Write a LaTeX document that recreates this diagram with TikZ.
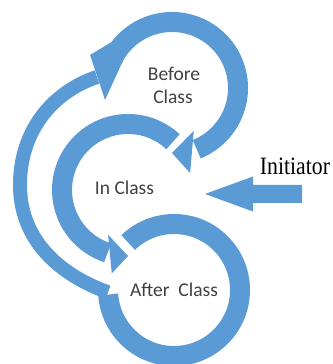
\documentclass[tikz,border=0pt]{standalone}
\usepackage{fontspec}
\usepackage{graphicx}
\setmainfont{Carlito}
\newfontfamily\serifit{Liberation Serif}
\usetikzlibrary{calc}
\definecolor{arrowblue}{HTML}{5B9BD5}
\definecolor{labelgray}{HTML}{404040}
\begin{document}
\begin{tikzpicture}[x=1pt,y=1pt,
  band/.style={draw=arrowblue,line width=20pt,line cap=butt},
  thinband/.style={draw=arrowblue,line width=14pt,line cap=butt},
  headfill/.style={fill=arrowblue,draw=none},
  lbl/.style={text=labelgray,font=\fontsize{19.5}{22.5}\selectfont,inner sep=0pt}]
\useasboundingbox (0,0) rectangle (332,364);
\coordinate (T) at (172,276);
\coordinate (M) at (128,174);
\coordinate (B) at (174,74);
% bottom circle (After Class)
\draw[band] ($(B)+(134:66)$) arc[start angle=134,end angle=-176,radius=66];
% long left arc from After Class up to Before Class
\coordinate (LA0) at ($(B)+(182:66)$);
\coordinate (LA1) at (97,287);
\draw[thinband] (LA0) .. controls (60,89) and (19,124) .. (20,181)
  .. controls (21,239) and (58,274) .. (LA1);
\fill[headfill] (90,309) -- ($(T)+(143:76)$) -- ($(T)+(152:56)$) -- (105,264) -- cycle;
% top circle (Before Class)
\draw[band] ($(T)+(155:66)$) arc[start angle=155,end angle=-68,radius=66];
\fill[headfill] ($(T)+(-63:48)$) -- ($(T)+(-90:65)$) -- ($(T)+(-78:87)$) -- cycle;
% middle circle (In Class)
\draw[band] ($(M)+(47:66)$) arc[start angle=47,end angle=252,radius=66];
\fill[headfill] ($(M)+(246:49)$) -- ($(M)+(270:66)$) -- ($(M)+(259:85)$) -- cycle;
% Initiator arrow
\fill[headfill] (302,179) -- (253,179) -- (253,187.5) -- (205,170) -- (253,152.5) -- (253,161) -- (302,161) -- cycle;
% labels
\node[lbl,anchor=base] (before) at (174,283) {Before};
\node[lbl,anchor=base] (beforeb) at (173,260.7) {Class};
\node[lbl,anchor=base] (inclass) at (124.5,169) {In Class};
\node[lbl,anchor=base] (after) at (174,67) {After\ \ Class};
\node[anchor=base,inner sep=0pt] (init) at (295,189) {\serifit\fontsize{25}{25}\selectfont\scalebox{0.87}[1]{Initiator}};
\end{tikzpicture}
\end{document}
